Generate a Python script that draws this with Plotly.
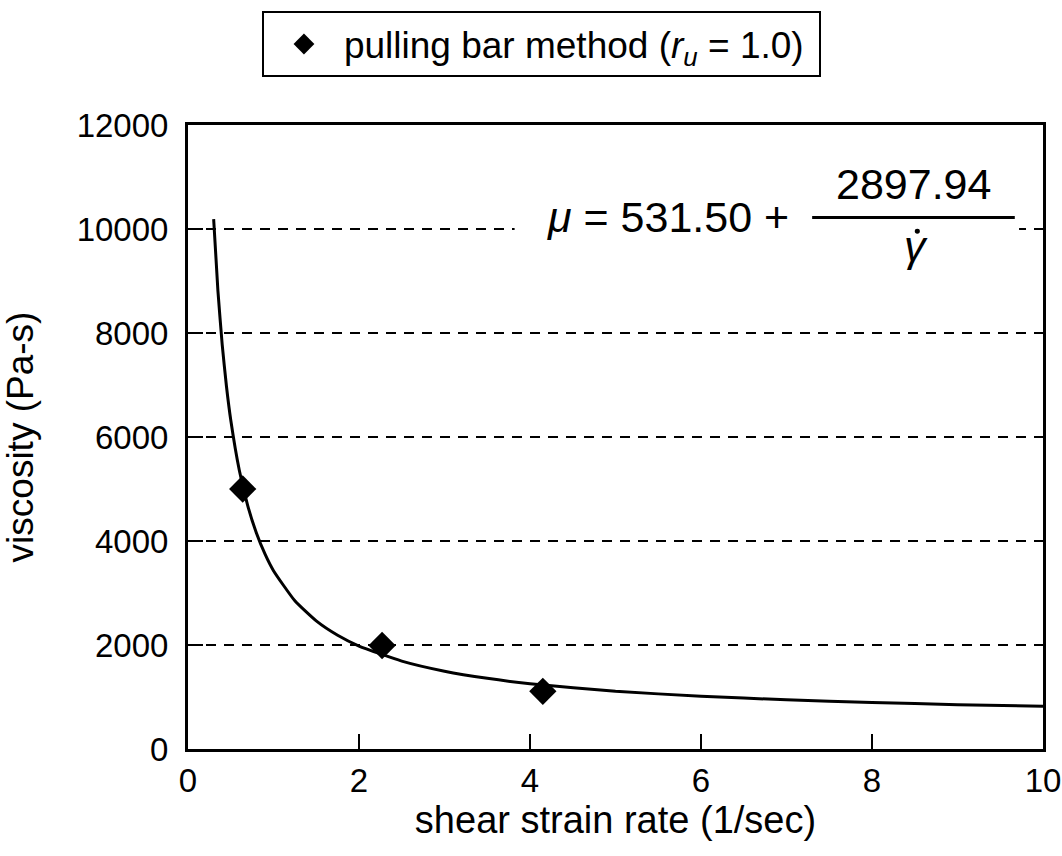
import plotly.graph_objects as go

# measured data points (pulling bar method)
shear_rate = [0.64, 2.27, 4.15]
viscosity = [5000, 1990, 1110]

# fitted curve mu = 531.50 + 2897.94 / gamma_dot, sampled values
fit_rate = [0.3, 0.35, 0.4, 0.45, 0.5, 0.6, 0.7, 0.8, 0.9, 1.0, 1.25, 1.5, 1.75, 2.0, 2.5, 3.0, 3.5, 4.0, 5.0, 6.0, 7.0, 8.0, 9.0, 10.0]
fit_visc = [10191, 8811, 7776, 6971, 6327, 5361, 4671, 4154, 3751, 3429, 2850, 2463, 2187, 1980, 1691, 1497, 1359, 1256, 1111, 1014, 946, 894, 853, 821]

x_ticks = [0, 2, 4, 6, 8, 10]
y_ticks = [0, 2000, 4000, 6000, 8000, 10000, 12000]
y_tick_text = ["0", "2000", "4000", "6000", "8000", "10000", "12000"]

FONT = "Liberation Sans, Arial, sans-serif"

fig = go.Figure()
fig.add_trace(go.Scatter(x=fit_rate, y=fit_visc, mode="lines",
                         line=dict(color="black", width=3, shape="spline", smoothing=0.5),
                         showlegend=False, hoverinfo="skip"))
fig.add_trace(go.Scatter(x=shear_rate, y=viscosity, mode="markers",
                         marker=dict(symbol="diamond", size=21, color="black"),
                         name="pulling bar method (<i>r<sub>u</sub></i> = 1.0)&nbsp;"))

# white mask behind the equation (interrupts gridline)
fig.add_shape(type="rect", xref="x", yref="y", x0=3.82, x1=9.72, y0=9700, y1=10350,
              fillcolor="white", line=dict(width=0), layer="above")
# fraction bar
fig.add_shape(type="line", xref="x", yref="y", x0=7.30, x1=9.67, y0=10223, y1=10223,
              line=dict(color="black", width=3), layer="above")
# dot over gamma
fig.add_shape(type="circle", xref="x", yref="y", x0=8.50, x1=8.56, y0=9910, y1=10005,
              fillcolor="black", line=dict(width=0), layer="above")

fig.add_annotation(x=4.17, y=10223, xref="x", yref="y", xanchor="left", yanchor="middle",
                   text="<i>μ</i> = 531.50 +", showarrow=False,
                   font=dict(family=FONT, size=43, color="black"))
fig.add_annotation(x=8.49, y=10873, xref="x", yref="y", xanchor="center", yanchor="middle",
                   text="2897.94", showarrow=False,
                   font=dict(family=FONT, size=43, color="black"))
fig.add_annotation(x=8.52, y=9669, xref="x", yref="y", xanchor="center", yanchor="middle",
                   text="<i>γ</i>", showarrow=False,
                   font=dict(family=FONT, size=43, color="black"))

fig.update_layout(
    width=1062, height=856,
    margin=dict(l=188, r=19, t=121, b=107),
    paper_bgcolor="white", plot_bgcolor="white",
    font=dict(family=FONT, size=33, color="black"),
    legend=dict(x=0.0865, y=1.182, xanchor="left", yanchor="top", xref="paper", yref="paper",
                bordercolor="black", borderwidth=2, bgcolor="white",
                font=dict(family=FONT, size=37, color="black"), itemwidth=70),
    xaxis=dict(range=[0, 10], tickvals=x_ticks, ticks="inside", ticklen=15, tickwidth=2,
               tickcolor="black", showline=True, linecolor="black", linewidth=3, mirror=True,
               showgrid=False, zeroline=False, tickfont=dict(size=33), automargin=False,
               title=dict(text="shear strain rate (1/sec)", font=dict(size=38), standoff=0)),
    yaxis=dict(range=[0, 12000], tickvals=y_ticks, ticktext=y_tick_text, ticks="inside",
               ticklen=15, tickwidth=2, ticklabelstandoff=10,
               tickcolor="black", showline=True, linecolor="black", linewidth=3, mirror=True,
               showgrid=True, gridcolor="black", gridwidth=1.5, griddash="10px,8px",
               zeroline=False, tickfont=dict(size=33), automargin=False,
               title=dict(text="viscosity (Pa-s)", font=dict(size=37), standoff=36)),
)

fig.write_html("out.html")
